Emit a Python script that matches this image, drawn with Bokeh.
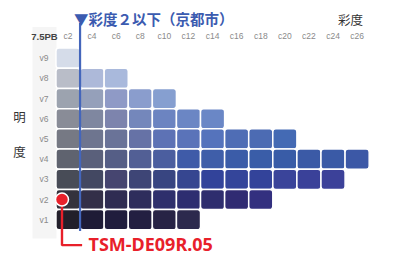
from bokeh.plotting import figure
from bokeh.models import Range1d, ColumnDataSource, Label, BoxAnnotation
from bokeh.core.properties import value
from bokeh.embed import file_html
from bokeh.resources import INLINE

# ---- data ----
chroma_labels = ["c2", "c4", "c6", "c8", "c10", "c12", "c14", "c16", "c18", "c20", "c22", "c24", "c26"]
chroma_values = [2, 4, 6, 8, 10, 12, 14, 16, 18, 20, 22, 24, 26]
value_labels = ["v1", "v2", "v3", "v4", "v5", "v6", "v7", "v8", "v9"]
value_levels = [1, 2, 3, 4, 5, 6, 7, 8, 9]

row_v9 = ["#d5dce9"]
row_v8 = ["#b9bdc8", "#adb9d9", "#a9b9dc"]
row_v7 = ["#9ca3af", "#95a0ba", "#8f9ac6", "#8a9dcd", "#869fd0"]
row_v6 = ["#898c97", "#7f87a0", "#7d84ad", "#7487bb", "#6c84c1", "#6b86c4", "#6a87c6"]
row_v5 = ["#767984", "#6e758f", "#6a7398", "#6672a6", "#5d72b5", "#5a73b9", "#5573bc",
          "#4f6db5", "#4c6bb3", "#446ab4"]
row_v4 = ["#5f636f", "#5a607b", "#555e86", "#525f95", "#4b5e9f", "#3f5ba8", "#3f5ea9",
          "#3b5ca8", "#3a5da8", "#395ca7", "#3b5aa6", "#3a5aa6", "#3c58a6"]
row_v3 = ["#484c57", "#434862", "#464570", "#3e4576", "#384581", "#364690", "#32439a",
          "#34459a", "#33439a", "#3a449a", "#3a4199", "#3c4199"]
row_v2 = ["#34323d", "#332f48", "#2f2c52", "#2e2d5c", "#2e2f6c", "#2d2d70", "#2e2d6e",
          "#302b72", "#33307f"]
row_v1 = ["#221f2a", "#1e1b36", "#201d3d", "#231f41", "#272345", "#2c294d"]
rows = {9: row_v9, 8: row_v8, 7: row_v7, 6: row_v6, 5: row_v5,
        4: row_v4, 3: row_v3, 2: row_v2, 1: row_v1}

hue_label = "7.5PB"
limit_chroma = 2
sample_name = "TSM-DE09R.05"
sample_chroma = 1.5
sample_value = 2

# ---- build cells ----
xs, ys, cols = [], [], []
for v, colors in rows.items():
    for i, c in enumerate(colors):
        xs.append(chroma_values[i])
        ys.append(v)
        cols.append(c)
src = ColumnDataSource(dict(left=[x - 1 for x in xs], right=[x + 1 for x in xs],
                            bottom=[y - 0.5 for y in ys], top=[y + 0.5 for y in ys],
                            color=cols))

W, H = 382, 256
p = figure(width=W, height=H, output_backend="svg", toolbar_location=None,
           x_range=Range1d(-3.605, 28.107), y_range=Range1d(-0.822, 11.857),
           min_border=0, min_border_left=0, min_border_right=0,
           min_border_top=0, min_border_bottom=0)
p.xaxis.visible = False
p.yaxis.visible = False
p.grid.visible = False
p.outline_line_color = None
p.background_fill_color = "white"
p.border_fill_color = "white"

# light label strip
p.add_layout(BoxAnnotation(left=32, right=56, top=229.6, bottom=18,
                           left_units="screen", right_units="screen",
                           top_units="screen", bottom_units="screen",
                           fill_color="#f5f5f5", fill_alpha=1, line_color=None, level="underlay"))

p.quad(left="left", right="right", bottom="bottom", top="top", source=src,
       fill_color="color", line_color="white", line_width=1.5, border_radius=3)

# tick labels
tick_font = value("Liberation Sans")
p.text(x=chroma_values, y=[10.08] * len(chroma_values), text=chroma_labels,
       text_font=tick_font, text_font_size="8.5px", text_color="#8a8a8a",
       text_align="center", text_baseline="middle")
p.text(x=[0] * len(value_levels), y=value_levels, text=value_labels,
       text_font=tick_font, text_font_size="8.5px", text_color="#8a8a8a",
       text_align="center", text_baseline="middle")

p.add_layout(Label(x=44, y=220.2, x_units="screen", y_units="screen", text=hue_label,
                   text_font="Liberation Sans", text_font_size="9.5px",
                   text_font_style="bold", text_color="#444444",
                   text_align="center", text_baseline="middle"))

# axis titles
p.add_layout(Label(x=350, y=237.2, x_units="screen", y_units="screen", text="彩度",
                   text_font="Noto Sans CJK JP", text_font_size="12.5px",
                   text_color="#333333", text_align="center", text_baseline="middle"))
p.add_layout(Label(x=19, y=140.2, x_units="screen", y_units="screen", text="明",
                   text_font="Noto Sans CJK JP", text_font_size="12.5px",
                   text_color="#333333", text_align="center", text_baseline="middle"))
p.add_layout(Label(x=19, y=105.4, x_units="screen", y_units="screen", text="度",
                   text_font="Noto Sans CJK JP", text_font_size="12.5px",
                   text_color="#333333", text_align="center", text_baseline="middle"))

# limit line
p.segment(x0=[limit_chroma + 1], x1=[limit_chroma + 1], y0=[0.436], y1=[10.74],
          line_color="#4466bb", line_width=2.2)
p.add_layout(Label(x=73.5, y=238.1, x_units="screen", y_units="screen",
                   text="▼彩度２以下（京都市）",
                   text_font="Noto Sans CJK JP", text_font_size="14.5px",
                   text_font_style="bold", text_color="#3b5bb0",
                   text_align="left", text_baseline="middle"))

# sample marker
p.line(x=[sample_chroma, sample_chroma, 3.17], y=[sample_value, -0.26, -0.26],
       line_color="#e8202a", line_width=2.4)
p.scatter(x=[sample_chroma], y=[sample_value], size=13, fill_color="#e8202a",
          line_color="white", line_width=1.5)
p.add_layout(Label(x=88, y=12.5, x_units="screen", y_units="screen", text=sample_name,
                   text_font="Noto Sans", text_font_size="18px", text_font_style="bold",
                   text_color="#e8202a", text_align="left", text_baseline="middle"))

open("out.html", "w").write(file_html(p, INLINE))
